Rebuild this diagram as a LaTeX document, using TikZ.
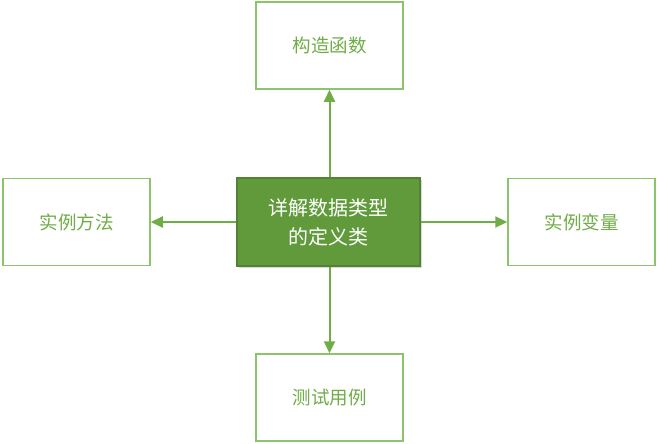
\documentclass[tikz,border=0pt]{standalone}
\usepackage{fontspec}
\newfontfamily\cjk{Noto Sans CJK SC}
\usetikzlibrary{arrows.meta,shadows,positioning}
\definecolor{outerline}{HTML}{8CC46A}
\definecolor{txtgreen}{HTML}{70AD47}
\definecolor{centerfill}{HTML}{609A3B}
\definecolor{centerline}{HTML}{548235}
\definecolor{arrowgreen}{HTML}{70AD47}
\tikzset{
  outerbox/.style={draw=outerline, line width=1.5pt, fill=white, minimum width=147pt, minimum height=87pt, inner sep=0pt, text=txtgreen, font=\cjk\fontsize{18.5}{22}\selectfont},
  centerbox/.style={draw=centerline, line width=1.5pt, fill=centerfill, minimum width=183pt, minimum height=88pt, inner sep=0pt, text=white, align=center, font=\cjk\fontsize{20}{29}\selectfont, drop shadow={shadow xshift=2pt, shadow yshift=-2pt, opacity=0.25, fill=black!60}},
  conn/.style={draw=arrowgreen, line width=2pt, -{Triangle[length=12pt,width=11pt]}}
}
\begin{document}
\begin{tikzpicture}[x=1pt,y=-1pt]
\useasboundingbox (0,0) rectangle (658,444);
\node[centerbox] (c) at (328.5,222) {详解数据类型\\的定义类};
\node[outerbox] (t) at (329.5,45.5) {构造函数};
\node[outerbox] (l) at (76.5,222) {实例方法};
\node[outerbox] (r) at (581.5,222) {实例变量};
\node[outerbox] (b) at (329.5,397.5) {测试用例};
\draw[conn] (t.south |- c.north) -- (t.south);
\draw[conn] (c.west) -- (l.east);
\draw[conn] (c.east) -- (r.west);
\draw[conn] (b.north |- c.south) -- (b.north);
\end{tikzpicture}
\end{document}
